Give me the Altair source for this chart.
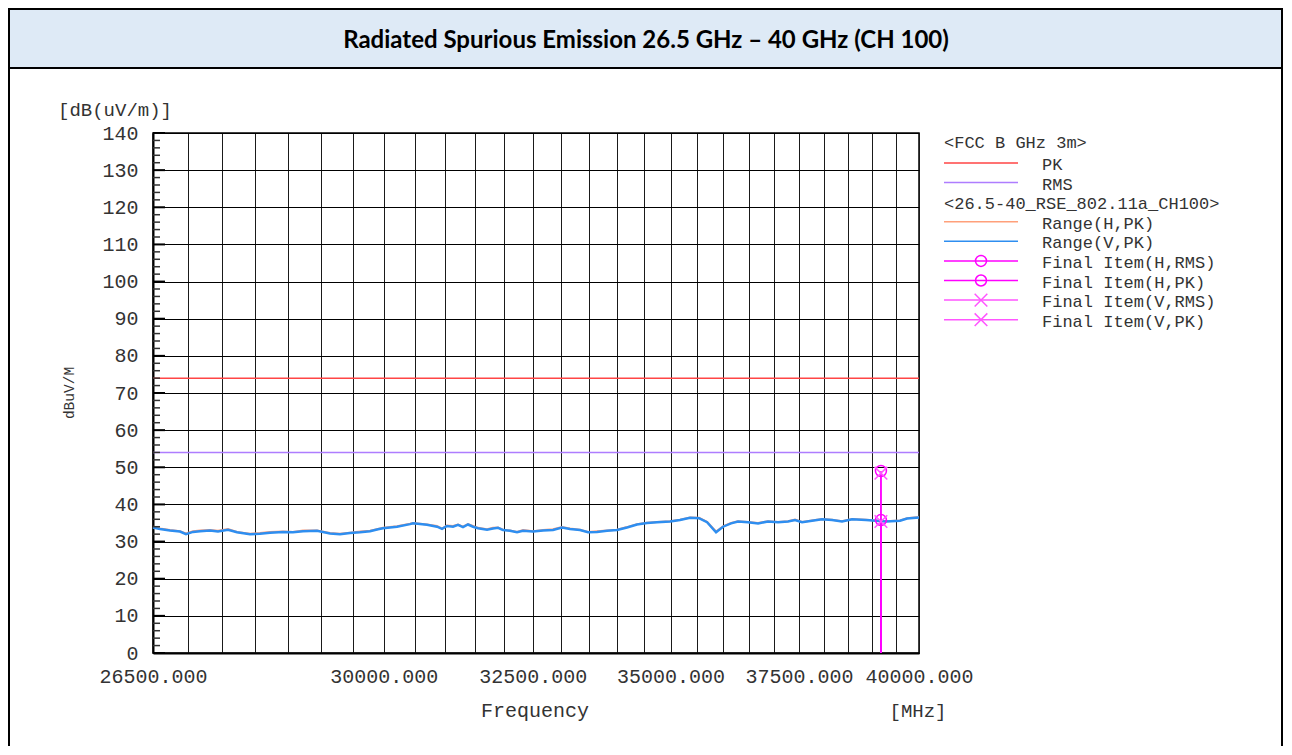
import altair as alt
import pandas as pd

# ---------------- data ----------------
TITLE = "Radiated Spurious Emission 26.5 GHz \u2013 40 GHz (CH 100)"

FREQ_MHZ = [26500, 26600, 26743, 26887, 26974, 27076, 27178, 27324, 27442, 27590,
            27724, 27918, 28069, 28220, 28418, 28571, 28725, 28942, 29145, 29302,
            29460, 29619, 29779, 29907, 29987, 30214, 30426, 30475, 30705, 30871,
            30954, 31037, 31137, 31221, 31305, 31389, 31474, 31559, 31712, 31814,
            31900, 31986, 32106, 32227, 32331, 32506, 32681, 32857, 33016, 33158,
            33337, 33481, 33643, 33825, 34007, 34190, 34374, 34560, 34746, 34990,
            35178, 35368, 35539, 35693, 35866, 36001, 36156, 36292, 36488, 36685,
            36882, 37081, 37281, 37421, 37563, 37765, 37969, 38173, 38379, 38586,
            38877, 39087, 39297, 39594, 39744, 40000]

RANGE_V_PK = [33.8, 33.4, 33.0, 32.7, 32.0, 32.6, 32.8, 33.0, 32.7, 33.2,
              32.5, 32.0, 32.1, 32.4, 32.6, 32.5, 32.8, 32.9, 32.2, 32.0,
              32.3, 32.5, 32.8, 33.3, 33.6, 34.0, 34.7, 34.9, 34.5, 34.0,
              33.4, 34.2, 34.0, 34.5, 33.9, 34.6, 34.0, 33.6, 33.2, 33.5,
              33.7, 33.1, 32.9, 32.5, 32.9, 32.7, 33.0, 33.1, 33.8, 33.4,
              33.1, 32.5, 32.6, 32.9, 33.1, 33.8, 34.6, 35.0, 35.2, 35.4,
              35.8, 36.4, 36.3, 35.2, 32.5, 34.0, 34.9, 35.4, 35.2, 34.9,
              35.4, 35.2, 35.4, 35.8, 35.2, 35.6, 36.0, 35.8, 35.4, 36.0,
              35.8, 35.6, 35.4, 35.6, 36.2, 36.5]

RANGE_H_PK = [34.0, 33.5, 33.1, 32.8, 32.2, 32.8, 33.0, 33.1, 32.9, 33.4,
              32.6, 32.1, 32.3, 32.6, 32.7, 32.6, 33.0, 33.0, 32.3, 32.1,
              32.4, 32.7, 32.9, 33.4, 33.7, 34.1, 34.8, 35.0, 34.6, 34.2,
              33.5, 34.3, 34.2, 34.6, 34.0, 34.7, 34.2, 33.7, 33.3, 33.7,
              33.8, 33.2, 33.0, 32.6, 33.1, 32.8, 33.1, 33.3, 33.9, 33.5,
              33.2, 32.6, 32.8, 33.0, 33.2, 33.9, 34.7, 35.1, 35.3, 35.5,
              35.9, 36.5, 36.4, 35.3, 32.7, 34.1, 35.0, 35.5, 35.3, 35.0,
              35.5, 35.3, 35.5, 35.9, 35.3, 35.7, 36.1, 35.9, 35.5, 36.1,
              35.9, 35.7, 35.5, 35.7, 36.3, 36.6]

LIMIT_NAMES = ["PK", "RMS"]
LIMIT_DB = [74, 54]

FINAL_FREQ = [39190, 39190, 39190, 39190]
FINAL_NAMES = ["Final Item(H,RMS)", "Final Item(H,PK)", "Final Item(V,RMS)", "Final Item(V,PK)"]
FINAL_DB = [35.8, 49.0, 35.4, 48.4]

X_LABEL_VALUES = [26500, 30000, 32500, 35000, 37500, 40000]
X_GRID_VALUES = list(range(26500, 40001, 500))
Y_TICK_VALUES = list(range(0, 141, 10))
Y_MINOR_VALUES = [v for v in range(0, 141, 2) if v % 10 != 0]

LEGEND_ROWS = ["<FCC B GHz 3m>", "PK", "RMS", "<26.5-40_RSE_802.11a_CH100>",
               "Range(H,PK)", "Range(V,PK)", "Final Item(H,RMS)", "Final Item(H,PK)",
               "Final Item(V,RMS)", "Final Item(V,PK)"]

# ---------------- styles ----------------
MONO = "Liberation Mono"
TXT = "#333333"
RED = "#FF4545"
PURPLE = "#AE7DFF"
ORANGE = "#FFA07A"
BLUE = "#2E8EF0"
MAG_H = "#FF00FF"
MAG_V = "#FF55FF"
X_MARK = "M-1,-1L1,1M1,-1L-1,1"

W, H = 766, 520
X0, Y0 = 153, 133   # page position of the plot origin


def px(x):
    return x - X0


def py(y):
    return y - Y0


trace_df = pd.DataFrame({"freq": FREQ_MHZ, "v": RANGE_V_PK, "h": RANGE_H_PK})
limit_df = pd.DataFrame({"name": LIMIT_NAMES, "db": LIMIT_DB})
final_df = pd.DataFrame({"freq": FINAL_FREQ, "name": FINAL_NAMES, "db": FINAL_DB})
minor_df = pd.DataFrame({"db": Y_MINOR_VALUES})
major_df = pd.DataFrame({"db": Y_TICK_VALUES})
one = pd.DataFrame({"k": [0]})

xscale = alt.Scale(type="log", domain=[26500, 40000], nice=False)
yscale = alt.Scale(domain=[0, 140], nice=False, zero=False)

label_list = ",".join(str(v) for v in X_LABEL_VALUES)
xaxis = alt.Axis(values=X_GRID_VALUES, title=None, grid=True, gridColor="#1a1a1a",
                 gridWidth=1, ticks=False,
                 labelExpr=f"indexof([{label_list}], datum.value) >= 0 ? format(datum.value, '.3f') : ''",
                 labelFont=MONO, labelFontSize=20, labelColor=TXT, labelPadding=13,
                 labelOverlap=False, labelBound=False, labelFlush=False,
                 domainColor="black", domainWidth=2)
yaxis = alt.Axis(values=Y_TICK_VALUES, tickCount=15, title=None, grid=True, gridColor="black",
                 gridWidth=1, ticks=False, labelFont=MONO, labelFontSize=20,
                 labelColor=TXT, labelPadding=15, labelOverlap=False,
                 domainColor="black", domainWidth=2)


def X(field="freq:Q"):
    return alt.X(field, scale=xscale, axis=xaxis)


def Y(field):
    return alt.Y(field, scale=yscale, axis=yaxis)


trace_h = alt.Chart(trace_df).mark_line(color=ORANGE, strokeWidth=2).encode(x=X(), y=Y("h:Q"))
trace_v = alt.Chart(trace_df).mark_line(color=BLUE, strokeWidth=2.5).encode(x=X(), y=Y("v:Q"))

lim_pk = alt.Chart(limit_df).transform_filter(alt.datum.name == "PK").mark_rule(
    color=RED, strokeWidth=1.5).encode(y=Y("db:Q"))
lim_rms = alt.Chart(limit_df).transform_filter(alt.datum.name == "RMS").mark_rule(
    color=PURPLE, strokeWidth=1.5).encode(y=Y("db:Q"))

final_rule = alt.Chart(final_df).mark_rule(color=MAG_H, strokeWidth=1.5).encode(
    x=X(), y=Y("db:Q"), y2=alt.datum(0))
final_h = alt.Chart(final_df).transform_filter("indexof(datum.name, '(H') >= 0").mark_point(
    shape="circle", filled=False, size=120, strokeWidth=1.5, color=MAG_H, opacity=1).encode(
    x=X(), y=Y("db:Q"))
final_v = alt.Chart(final_df).transform_filter("indexof(datum.name, '(V') >= 0").mark_point(
    shape=X_MARK, filled=False, size=160, strokeWidth=1.5, color=MAG_V, opacity=1).encode(
    x=X(), y=Y("db:Q"))

minor_ticks = alt.Chart(minor_df).mark_rule(color=TXT, strokeWidth=1.5).encode(
    y=Y("db:Q"), x=alt.value(0), x2=alt.value(7))
major_ticks = alt.Chart(major_df).mark_rule(color="black", strokeWidth=2).encode(
    y=Y("db:Q"), x=alt.value(0), x2=alt.value(12))


def rect(x1, x2, y1, y2, color):
    return alt.Chart(one).mark_rect(color=color).encode(
        x=alt.value(px(x1)), x2=alt.value(px(x2)),
        y=alt.value(py(y1)), y2=alt.value(py(y2)))


def text(s, x, y, size, align="left", font=MONO, weight="normal", color=TXT, angle=0):
    return alt.Chart(one).mark_text(font=font, fontSize=size, align=align, baseline="middle",
                                    fontWeight=weight, color=color, angle=angle).encode(
        x=alt.value(px(x)), y=alt.value(py(y)), text=alt.value(s))


def hline(x1, x2, y, color):
    return alt.Chart(one).mark_rule(color=color, strokeWidth=1.5).encode(
        x=alt.value(px(x1)), x2=alt.value(px(x2)), y=alt.value(py(y)))


def marker(x, y, shape, color, size):
    return alt.Chart(one).mark_point(shape=shape, filled=False, size=size, strokeWidth=1.5,
                                     color=color, opacity=1).encode(
        x=alt.value(px(x)), y=alt.value(py(y)))


RIGHT = 1283
BOTTOM = 746
deco = [
    rect(10, RIGHT - 2, 10, 67, "#DEEAF6"),
    rect(8, RIGHT, 8, 10, "black"),
    rect(8, RIGHT, 67, 69, "black"),
    rect(8, 10, 8, BOTTOM, "black"),
    rect(RIGHT - 2, RIGHT, 8, BOTTOM, "black"),
    text(TITLE, 646, 41, 24, align="center", font="Lato", weight="bold", color="black"),
    text("[dB(uV/m)]", 58, 110, 19),
    text("dBuV/M", 70, 393, 14.5, align="center", angle=270),
    text("Frequency", 535, 711, 20, align="center"),
    text("[MHz]", 918, 711, 19, align="center"),
]

# legend
row_y = [143.3 + i * 19.6 for i in range(len(LEGEND_ROWS))]
legend_colors = {1: RED, 2: PURPLE, 4: ORANGE, 5: BLUE, 6: MAG_H, 7: MAG_H, 8: MAG_V, 9: MAG_V}
for i, label in enumerate(LEGEND_ROWS):
    if i in (0, 3):
        deco.append(text(label, 944, row_y[i] + (1.5 if i == 3 else 0), 17))
    else:
        deco.append(hline(944, 1018, row_y[i], legend_colors[i]))
        deco.append(text(label, 1042, row_y[i] + 2, 17))
        if i in (6, 7):
            deco.append(marker(981, row_y[i], "circle", MAG_H, 120))
        elif i in (8, 9):
            deco.append(marker(981, row_y[i], X_MARK, MAG_V, 160))

chart = alt.layer(
    *deco,
    trace_h, trace_v, lim_pk, lim_rms, final_rule, final_h, final_v,
    minor_ticks, major_ticks,
).properties(width=W, height=H, padding=0, background="white").configure_view(
    stroke="black", strokeWidth=1.5)

chart.save("out.html", embed_options={"renderer": "svg", "actions": False})
